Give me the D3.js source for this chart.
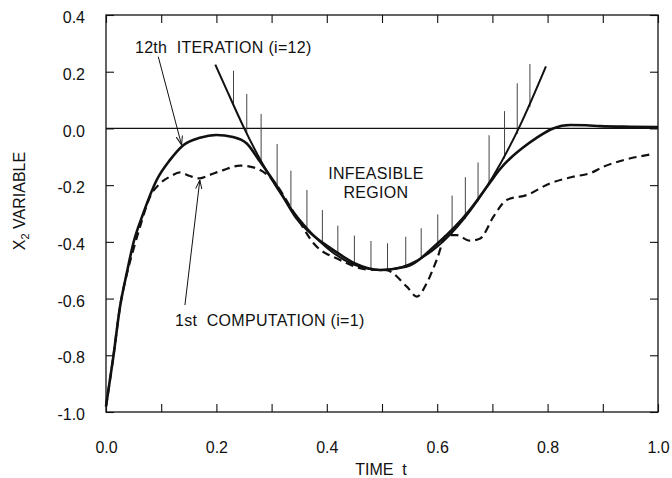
<!DOCTYPE html>
<html>
<head>
<meta charset="utf-8">
<script src="https://cdn.jsdelivr.net/npm/d3@7"></script>
<style>
  body { margin: 0; background: #fff; }
  svg text { font-family: "Liberation Sans", Arial, sans-serif; fill: #111; }
</style>
</head>
<body>
<div id="chart"></div>
<script>
// 12th iteration (solid)
const iterT = [0, 0.0133, 0.0254, 0.0375, 0.0495, 0.0676, 0.0918, 0.116, 0.140, 0.17, 0.2, 0.23, 0.255, 0.279, 0.31, 0.345, 0.38, 0.412, 0.45, 0.496, 0.543, 0.601, 0.659, 0.696, 0.714, 0.732, 0.755, 0.78, 0.81, 0.841, 0.87, 0.895, 0.95, 1.0]
const iterX2 = [-0.98, -0.805, -0.629, -0.511, -0.405, -0.299, -0.182, -0.111, -0.059, -0.033, -0.023, -0.03, -0.053, -0.117, -0.205, -0.317, -0.385, -0.429, -0.475, -0.499, -0.488, -0.405, -0.288, -0.19, -0.143, -0.106, -0.068, -0.033, 0.0, 0.012, 0.011, 0.008, 0.006, 0.005]

// 1st computation (dashed)
const firstT = [0, 0.0133, 0.0254, 0.0375, 0.0495, 0.0616, 0.0797, 0.098, 0.116, 0.134, 0.152, 0.17, 0.188, 0.2125, 0.243, 0.273, 0.297, 0.345, 0.376, 0.424, 0.472, 0.508, 0.545, 0.563, 0.581, 0.599, 0.617, 0.635, 0.659, 0.678, 0.702, 0.726, 0.762, 0.804, 0.847, 0.877, 0.901, 0.943, 0.989]
const firstX2 = [-0.98, -0.805, -0.629, -0.515, -0.428, -0.347, -0.241, -0.194, -0.17, -0.155, -0.168, -0.176, -0.164, -0.147, -0.131, -0.141, -0.172, -0.311, -0.405, -0.464, -0.497, -0.5, -0.558, -0.593, -0.546, -0.464, -0.376, -0.376, -0.396, -0.388, -0.311, -0.252, -0.235, -0.194, -0.17, -0.158, -0.135, -0.109, -0.091]

// state constraint boundary
const boundT = [0.198, 0.22, 0.25, 0.28, 0.31, 0.35, 0.40, 0.45, 0.50, 0.55, 0.60, 0.65, 0.70, 0.75, 0.797]
const boundX2 = [0.225, 0.13, 0.002, -0.112, -0.211, -0.32, -0.421, -0.481, -0.5, -0.479, -0.417, -0.315, -0.173, 0.01, 0.219]

// hatch marks of the infeasible region
const hatchT = [0.231, 0.255, 0.281, 0.31, 0.335, 0.364, 0.392, 0.42, 0.45, 0.48, 0.51, 0.543, 0.571, 0.601, 0.627, 0.651, 0.674, 0.694, 0.722, 0.745, 0.768]
const hatchLow = [0.082, -0.02, -0.116, -0.211, -0.282, -0.352, -0.407, -0.449, -0.48, -0.497, -0.499, -0.485, -0.46, -0.418, -0.371, -0.318, -0.258, -0.199, -0.106, -0.02, 0.075]
const hatchTop = [0.2035, 0.121, 0.051, -0.055, -0.149, -0.217, -0.288, -0.343, -0.378, -0.397, -0.405, -0.382, -0.352, -0.303, -0.237, -0.172, -0.12, -0.024, 0.061, 0.159, 0.227]

const xTicks = [0, 0.1, 0.2, 0.3, 0.4, 0.5, 0.6, 0.7, 0.8, 0.9, 1.0]
const xTickLabels = ['0.0', '', '0.2', '', '0.4', '', '0.6', '', '0.8', '', '1.0']
const yTicks = [-1.0, -0.8, -0.6, -0.4, -0.2, 0.0, 0.2, 0.4]
const yTickLabels = ['-1.0', '-0.8', '-0.6', '-0.4', '-0.2', '0.0', '0.2', '0.4']

const width = 672
const height = 478
const margin = { top: 15, right: 14, bottom: 66, left: 106 }
const fontSize = '16px'

const svg = d3.select('#chart')
  .append('svg')
  .attr('width', width)
  .attr('height', height)

const x = d3.scaleLinear().domain([0, 1]).range([margin.left, width - margin.right])
const y = d3.scaleLinear().domain([-1, 0.4]).range([height - margin.bottom, margin.top])

// arrow head
svg.append('defs').append('marker')
  .attr('id', 'arrow')
  .attr('viewBox', '0 0 10 10')
  .attr('refX', 10)
  .attr('refY', 5)
  .attr('markerWidth', 9)
  .attr('markerHeight', 9)
  .attr('markerUnits', 'userSpaceOnUse')
  .attr('orient', 'auto')
  .append('path')
  .attr('d', 'M0,1.5 L10,5 L0,8.5')
  .attr('fill', 'none')
  .attr('stroke', '#111')
  .attr('stroke-width', 1.1)

// axes, ticks pointing inward
const styleAxis = g => {
  g.select('.domain').remove()
  g.selectAll('.tick line').attr('stroke', '#111').attr('stroke-width', 1.1)
  g.selectAll('.tick text')
    .style('font-family', '"Liberation Sans", Arial, sans-serif')
    .style('font-size', fontSize)
    .attr('fill', '#111')
}

svg.append('g')
  .attr('transform', `translate(0,${y(-1)})`)
  .call(d3.axisBottom(x).tickValues(xTicks).tickSize(-8).tickPadding(30)
    .tickFormat((d, i) => xTickLabels[i]))
  .call(styleAxis)

svg.append('g')
  .attr('transform', `translate(0,${y(0.4)})`)
  .call(d3.axisTop(x).tickValues(xTicks).tickSize(-8).tickFormat(''))
  .call(styleAxis)

svg.append('g')
  .attr('transform', `translate(${x(0)},0)`)
  .call(d3.axisLeft(y).tickValues(yTicks).tickSize(-8).tickPadding(21)
    .tickFormat((d, i) => yTickLabels[i]))
  .call(styleAxis)
  .call(g => g.selectAll('.tick text').attr('dy', '0.48em'))

svg.append('g')
  .attr('transform', `translate(${x(1)},0)`)
  .call(d3.axisRight(y).tickValues(yTicks).tickSize(-8).tickFormat(''))
  .call(styleAxis)

// frame
svg.append('rect')
  .attr('x', x(0))
  .attr('y', y(0.4))
  .attr('width', x(1) - x(0))
  .attr('height', y(-1) - y(0.4))
  .attr('fill', 'none')
  .attr('stroke', '#111')
  .attr('stroke-width', 1.3)

// zero line
svg.append('line')
  .attr('x1', x(0))
  .attr('x2', x(1))
  .attr('y1', y(0))
  .attr('y2', y(0))
  .attr('stroke', '#111')
  .attr('stroke-width', 1.2)

// hatching
svg.append('g')
  .selectAll('line')
  .data(hatchT)
  .join('line')
  .attr('x1', d => x(d))
  .attr('x2', d => x(d))
  .attr('y1', (d, i) => y(hatchLow[i]))
  .attr('y2', (d, i) => y(hatchTop[i]))
  .attr('stroke', '#444')
  .attr('stroke-width', 1)

const smooth = d3.line()
  .x(d => x(d[0]))
  .y(d => y(d[1]))
  .curve(d3.curveMonotoneX)

svg.append('path')
  .datum(boundT.map((t, i) => [t, boundX2[i]]))
  .attr('d', smooth.curve(d3.curveNatural))
  .attr('fill', 'none')
  .attr('stroke', '#111')
  .attr('stroke-width', 2)

smooth.curve(d3.curveMonotoneX)

svg.append('path')
  .datum(firstT.map((t, i) => [t, firstX2[i]]))
  .attr('d', smooth)
  .attr('fill', 'none')
  .attr('stroke', '#111')
  .attr('stroke-width', 2.2)
  .attr('stroke-dasharray', '8,5')

svg.append('path')
  .datum(iterT.map((t, i) => [t, iterX2[i]]))
  .attr('d', smooth)
  .attr('fill', 'none')
  .attr('stroke', '#111')
  .attr('stroke-width', 2.6)

// annotations
const arrows = [
  [[0.0947, 0.253], [0.137, -0.0585]],
  [[0.143, -0.623], [0.170, -0.182]]
]
svg.append('g')
  .selectAll('line')
  .data(arrows)
  .join('line')
  .attr('x1', d => x(d[0][0]))
  .attr('y1', d => y(d[0][1]))
  .attr('x2', d => x(d[1][0]))
  .attr('y2', d => y(d[1][1]))
  .attr('stroke', '#111')
  .attr('stroke-width', 1)
  .attr('marker-end', 'url(#arrow)')

const notes = [
  { t: 0.0525, v: 0.266, text: '12th  ITERATION (i=12)', anchor: 'start' },
  { t: 0.125, v: -0.695, text: '1st  COMPUTATION (i=1)', anchor: 'start' },
  { t: 0.489, v: -0.18, text: 'INFEASIBLE', anchor: 'middle' },
  { t: 0.489, v: -0.244, text: 'REGION', anchor: 'middle' }
]
svg.append('g')
  .selectAll('text')
  .data(notes)
  .join('text')
  .attr('x', d => x(d.t))
  .attr('y', d => y(d.v))
  .attr('text-anchor', d => d.anchor)
  .style('white-space', 'pre')
  .style('font-size', fontSize)
  .style('letter-spacing', '0.3px')
  .text(d => d.text)

// axis titles
svg.append('text')
  .attr('x', 381)
  .attr('y', 475)
  .attr('text-anchor', 'middle')
  .style('white-space', 'pre')
  .style('font-size', fontSize)
  .text('TIME  t')

const yTitle = svg.append('text')
  .attr('transform', 'translate(25,201) rotate(-90)')
  .attr('text-anchor', 'middle')
  .style('font-size', fontSize)
yTitle.append('tspan').text('X')
yTitle.append('tspan').attr('dy', 4).style('font-size', '11px').text('2')
yTitle.append('tspan').attr('dy', -4).text(' VARIABLE')
</script>
</body>
</html>
